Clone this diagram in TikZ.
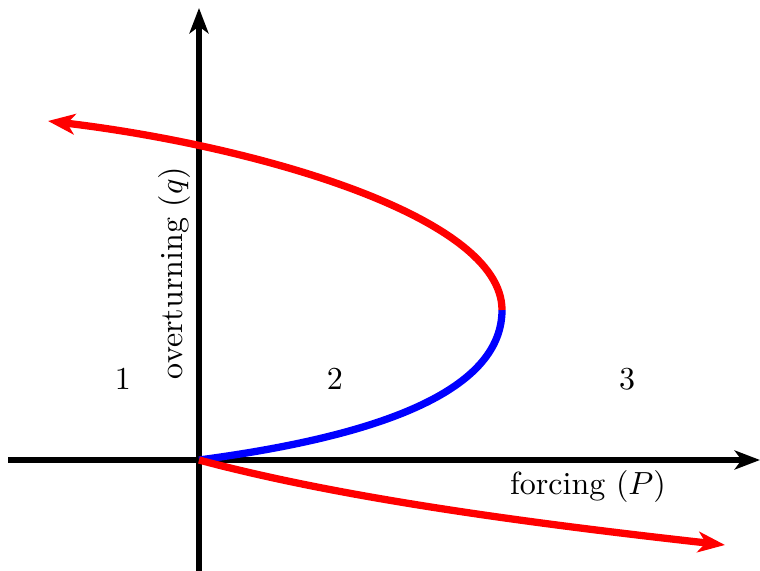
\documentclass[tikz,border=0pt]{standalone}
\usetikzlibrary{arrows.meta}
\begin{document}
\begin{tikzpicture}[x=0.3155pt,y=-0.3155pt,
  axis/.style={line width=2pt,black,-{Stealth[length=8pt,width=6pt,inset=2.2pt]}},
  branch/.style={line width=2.3pt},
  unstable/.style={branch,red},
  stable/.style={branch,blue},
  tipped/.style={-{Stealth[length=8.5pt,width=6.5pt,inset=2.4pt]}},
  lbl/.style={inner sep=0pt,scale=1.01}]
\useasboundingbox (0,0) rectangle (760,571);
\coordinate (O) at (199,460);
\coordinate (ybot) at (199,571);
\coordinate (ytop) at (199,8);
\coordinate (xleft) at (8,460);
\coordinate (xright) at (760,460);
\coordinate (nose) at (502,310);
\coordinate (upend) at (48,121);
\coordinate (lowend) at (725,545);
\draw[axis] (ybot) -- (ytop);
\draw[axis] (xleft) -- (xright);
\draw[stable] (O) .. controls (350,440) and (502,400) .. (nose);
\draw[unstable,tipped] (nose) .. controls (502,215) and (250,145) .. (upend);
\draw[unstable,tipped] (O) .. controls (330,495) and (500,520) .. (lowend);
\node[lbl] (r1) at (123,379) {1};
\node[lbl] (r2) at (335,379) {2};
\node[lbl] (r3) at (627,379) {3};
\node[lbl] (xl) at (588,486) {forcing $(P)$};
\node[lbl,rotate=90] (yl) at (174,273) {overturning $(q)$};
\end{tikzpicture}
\end{document}
